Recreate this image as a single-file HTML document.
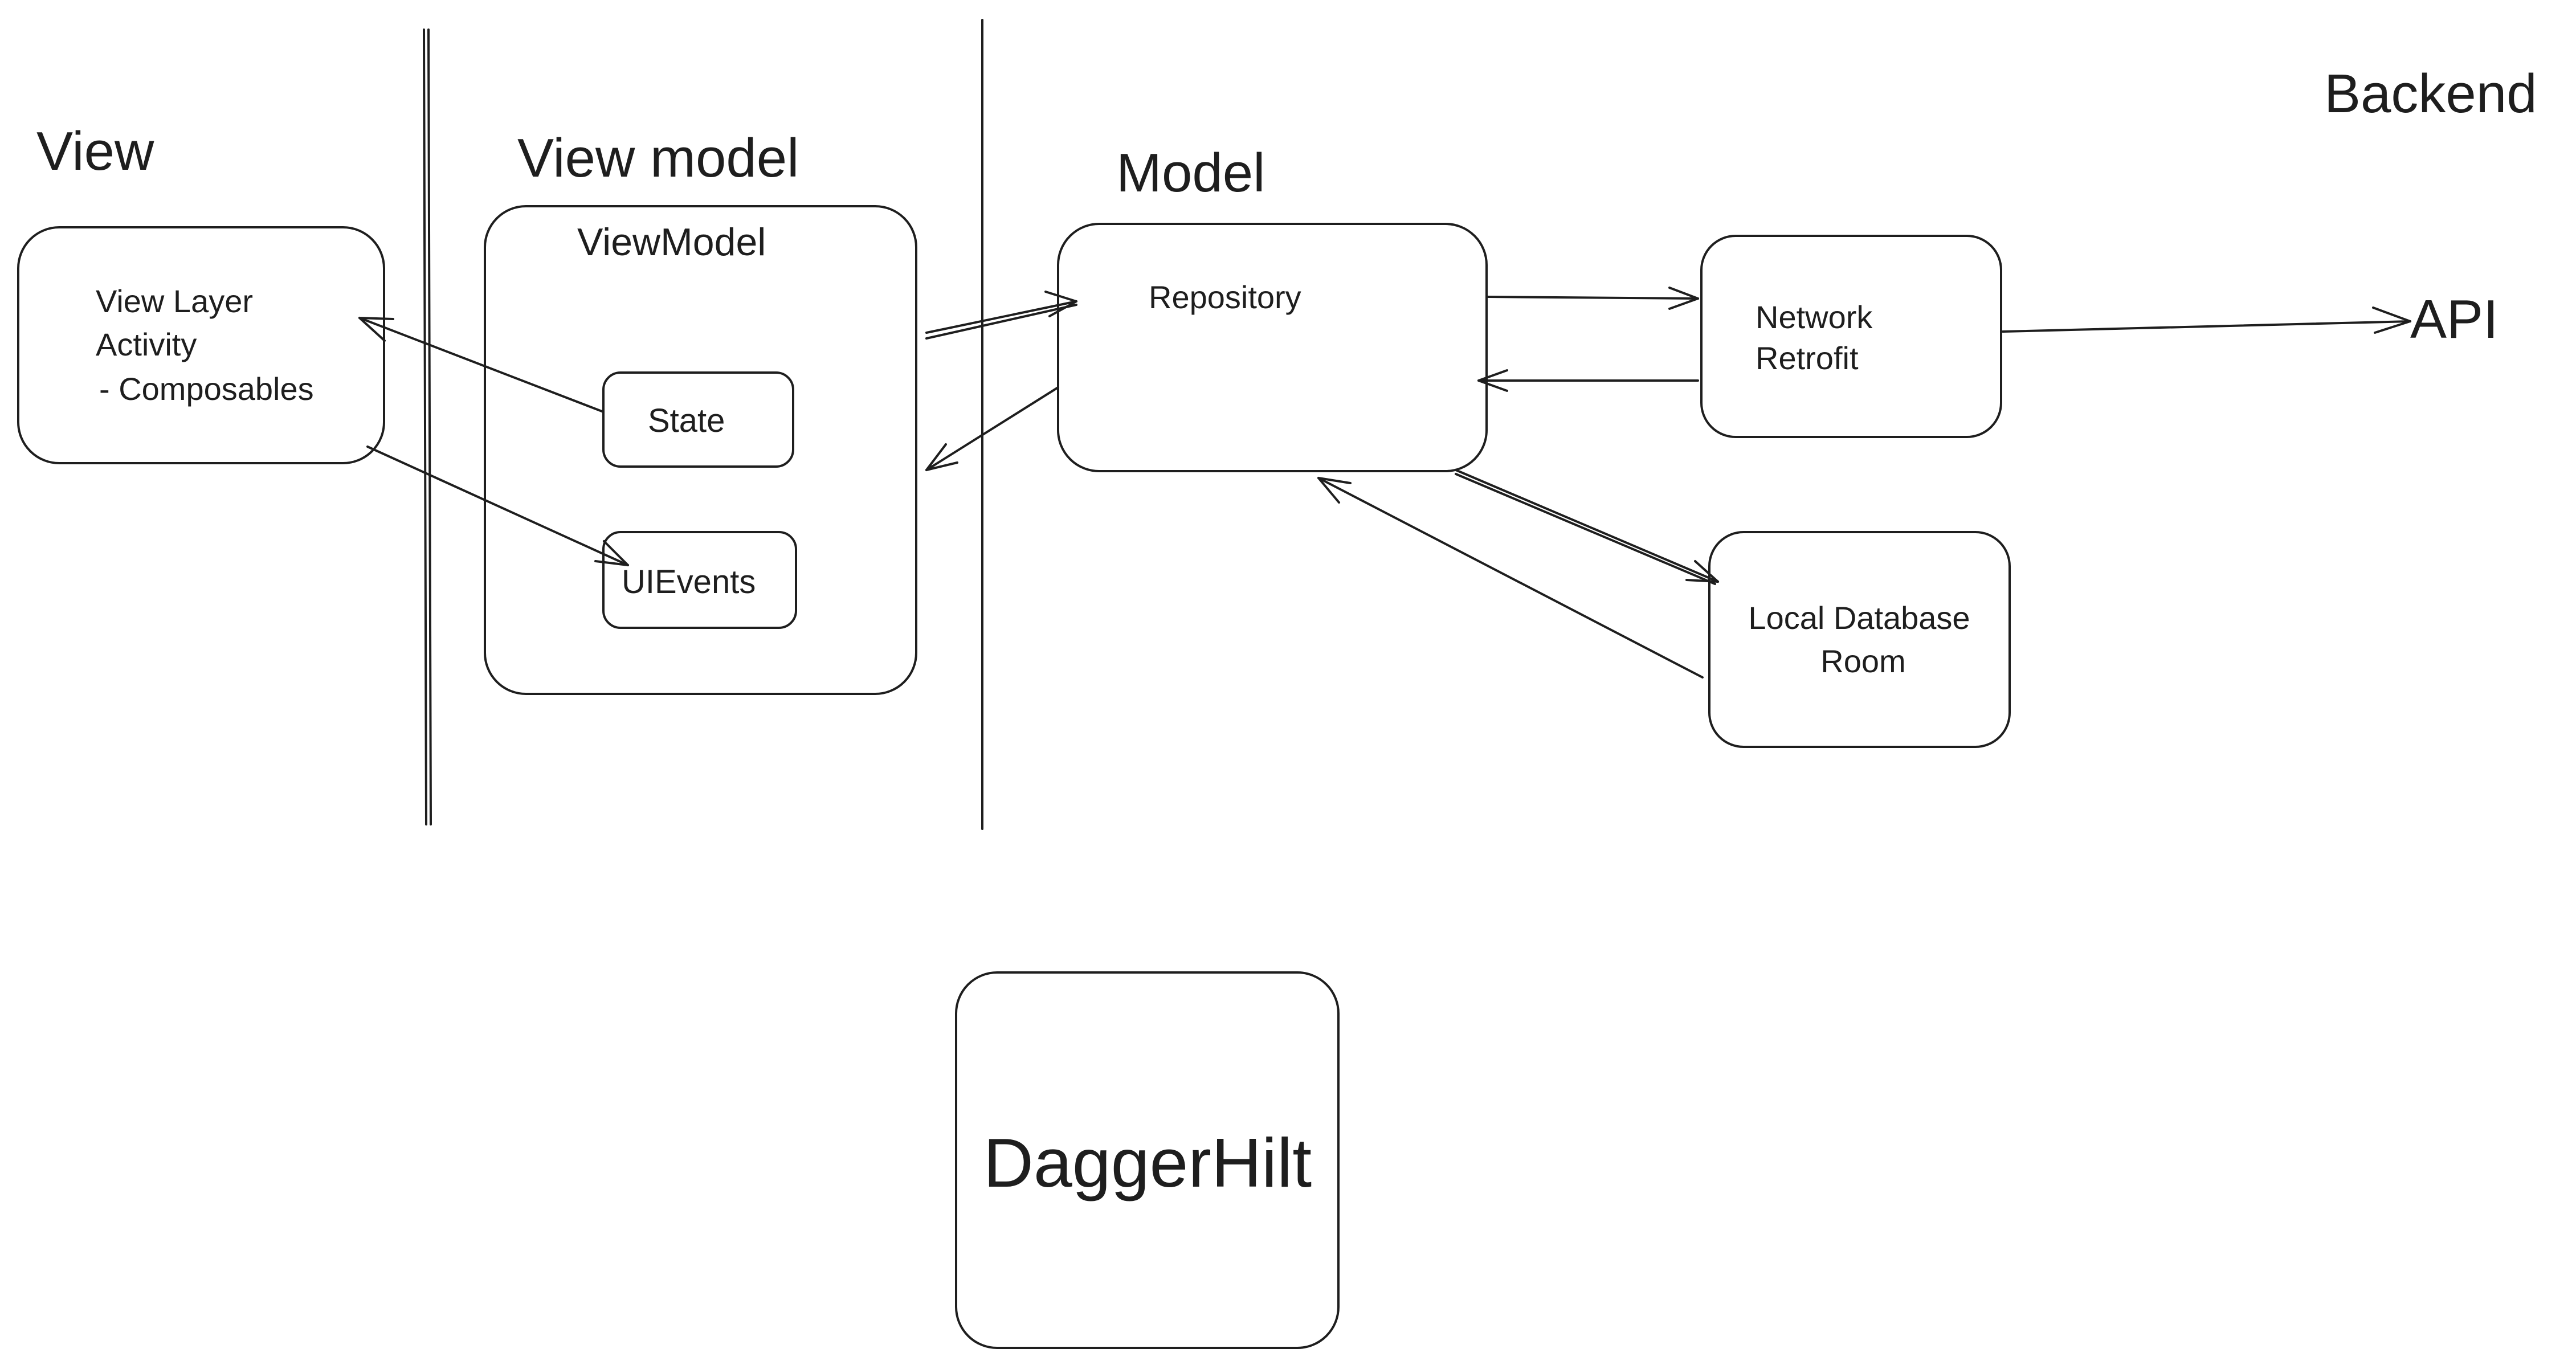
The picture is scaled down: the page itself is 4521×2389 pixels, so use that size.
<!DOCTYPE html>
<html><head><meta charset="utf-8"><style>
html,body{margin:0;padding:0;background:#fff;}
svg{display:block}
text{font-family:"Liberation Sans",sans-serif;fill:#1e1e1e}
</style></head><body>
<svg width="4521" height="2389" viewBox="0 0 4521 2389" xmlns="http://www.w3.org/2000/svg">
<defs>
<marker id="a" markerWidth="12" markerHeight="12" refX="10" refY="6" orient="auto" markerUnits="userSpaceOnUse" viewBox="0 0 12 12">
</marker>
</defs>
<g fill="none" stroke="#1e1e1e" stroke-width="4" stroke-linecap="round">
<line x1="752" y1="52" x2="756" y2="1447"/>
<line x1="744" y1="52" x2="748" y2="1447"/>
<line x1="1724" y1="35" x2="1724" y2="1455"/>
<rect x="32" y="399" width="642" height="414" rx="72"/>
<rect x="851" y="362" width="757" height="856" rx="72"/>
<rect x="1059" y="654" width="333" height="165" rx="30"/>
<rect x="1059" y="934" width="338" height="168" rx="30"/>
<rect x="1857" y="393" width="752" height="434" rx="72"/>
<rect x="2986" y="414" width="526" height="353" rx="60"/>
<rect x="3000" y="934" width="527" height="377" rx="60"/>
<rect x="1678" y="1707" width="671" height="659" rx="72"/>
</g>
<g fill="none" stroke="#1e1e1e" stroke-width="4" stroke-linecap="round" stroke-linejoin="round">
<!-- State -> View -->
<path d="M1059 723 L631 558"/><path d="M631 558 L690 560 M631 558 L675 598"/>
<!-- View -> UIEvents -->
<path d="M645 784 L1102 992"/><path d="M1102 992 L1045 985 M1102 992 L1060 950"/>
<!-- VM -> Repo -->
<path d="M1626 584 L1889 529"/><path d="M1626 594 L1889 535"/><path d="M1889 529 L1835 512 M1889 529 L1842 555"/>
<!-- Repo -> VM -->
<path d="M1857 680 L1626 825"/><path d="M1626 825 L1660 780 M1626 825 L1680 812"/>
<!-- Repo -> Network -->
<path d="M2612 521 L2980 524"/><path d="M2980 524 L2930 505 M2980 524 L2930 542"/>
<!-- Network -> Repo -->
<path d="M2980 668 L2595 668"/><path d="M2595 668 L2645 650 M2595 668 L2645 686"/>
<!-- Repo -> LocalDB -->
<path d="M2555 825 L3015 1021"/><path d="M2555 832 L3010 1025"/><path d="M3015 1021 L2960 1018 M3015 1021 L2975 985"/>
<!-- LocalDB -> Repo -->
<path d="M2988 1189 L2314 839"/><path d="M2314 839 L2370 848 M2314 839 L2350 882"/>
<!-- Network -> API -->
<path d="M3515 582 L4230 564"/><path d="M4230 564 L4165 540 M4230 564 L4168 584"/>
</g>
<g>
<text x="64" y="298" font-size="96">View</text>
<text x="908" y="310" font-size="96">View model</text>
<text x="1959" y="336" font-size="96">Model</text>
<text x="4079" y="197" font-size="96">Backend</text>
<text x="4230" y="593" font-size="96">API</text>
<text x="168" y="548" font-size="56">View Layer</text>
<text x="168" y="624" font-size="56">Activity</text>
<text x="174" y="702" font-size="56">- Composables</text>
<text x="1013" y="448" font-size="68">ViewModel</text>
<text x="1137" y="758" font-size="58">State</text>
<text x="1091" y="1041" font-size="58">UIEvents</text>
<text x="2016" y="541" font-size="56">Repository</text>
<text x="3081" y="576" font-size="56">Network</text>
<text x="3081" y="648" font-size="56">Retrofit</text>
<text x="3263" y="1104" font-size="56" text-anchor="middle">Local Database</text>
<text x="3270" y="1180" font-size="56" text-anchor="middle">Room</text>
<text x="2014" y="2083" font-size="122" text-anchor="middle">DaggerHilt</text>
</g>
</svg>
</body></html>
